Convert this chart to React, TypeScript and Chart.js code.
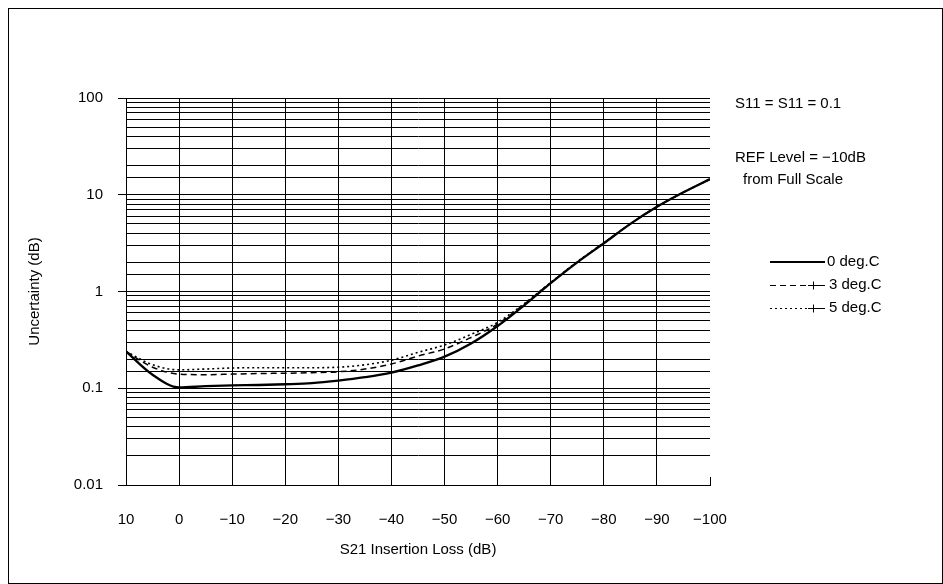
import React, { useEffect, useRef } from "react";
import { Chart, registerables } from "chart.js";

Chart.register(...registerables);

// ---- data ----
const xValues = [10, 5, 0, -5, -10, -15, -20, -25, -30, -35, -40, -45, -50, -55, -60, -65, -70, -75, -80, -85, -90, -95, -100];
const series0 = [0.24, 0.138, 0.102, 0.105, 0.107, 0.108, 0.11, 0.113, 0.12, 0.13, 0.145, 0.172, 0.212, 0.29, 0.44, 0.72, 1.22, 2.0, 3.15, 5.0, 7.5, 10.6, 14.5];
const series3 = [0.24, 0.165, 0.14, 0.138, 0.14, 0.142, 0.143, 0.145, 0.148, 0.158, 0.178, 0.215, 0.255, 0.335, 0.46, 0.74, 1.23, 2.02, 3.17, 5.0, 7.5, 10.6, 14.5];
const series5 = [0.24, 0.175, 0.155, 0.158, 0.162, 0.163, 0.163, 0.163, 0.165, 0.175, 0.195, 0.235, 0.28, 0.36, 0.48, 0.75, 1.24, 2.03, 3.18, 5.0, 7.5, 10.6, 14.5];
const seriesNames = ["0 deg.C", "3 deg.C", "5 deg.C"];
const xTicks = [10, 0, -10, -20, -30, -40, -50, -60, -70, -80, -90, -100];
const yMajorTicks = [0.01, 0.1, 1, 10, 100];
const yTickLabels = ["0.01", "0.1", "1", "10", "100"];
const noteLines = ["S11 = S11 = 0.1", "REF Level = \u221210dB", "from Full Scale"];
const xTitle = "S21 Insertion Loss (dB)";
const yTitle = "Uncertainty (dB)";

const FONT = "'Liberation Sans', Arial, sans-serif";
const FS = 15;

const fmtX = (v: number) => (v < 0 ? "\u2212" + Math.abs(v) : String(v));
const isMajor = (v: number) => {
  const l = Math.log10(v);
  return Math.abs(l - Math.round(l)) < 1e-6;
};

const notesPlugin = {
  id: "notes",
  afterDraw(chart: any) {
    const ctx = chart.ctx;
    const { bottom } = chart.chartArea;
    const xs = chart.scales.x;
    ctx.save();
    // small tick at -100
    ctx.strokeStyle = "#000";
    ctx.lineWidth = 1;
    const px = Math.round(xs.getPixelForValue(-100)) + 0.5;
    ctx.beginPath();
    ctx.moveTo(px, bottom - 8);
    ctx.lineTo(px, bottom);
    ctx.stroke();

    ctx.fillStyle = "#000";
    ctx.font = `${FS}px ${FONT}`;
    ctx.textBaseline = "middle";
    ctx.textAlign = "left";
    ctx.fillText(noteLines[0], 726, 95);
    ctx.fillText(noteLines[1], 726, 149);
    ctx.fillText(noteLines[2], 734, 171);

    // legend
    const rows = [253, 276, 299];
    const x0 = 761;
    // solid
    ctx.lineWidth = 2;
    ctx.setLineDash([]);
    ctx.beginPath();
    ctx.moveTo(x0, rows[0]);
    ctx.lineTo(x0 + 55, rows[0]);
    ctx.stroke();
    ctx.fillText(seriesNames[0], x0 + 57, rows[0]);
    // dashed / dotted
    const dashes = [[6, 4], [2, 3]];
    for (let i = 1; i < 3; i++) {
      const y = rows[i] + 0.5;
      ctx.lineWidth = 1;
      ctx.setLineDash(dashes[i - 1]);
      ctx.beginPath();
      ctx.moveTo(x0, y);
      ctx.lineTo(x0 + 38, y);
      ctx.stroke();
      ctx.setLineDash([]);
      ctx.beginPath();
      ctx.moveTo(x0 + 38, y);
      ctx.lineTo(x0 + 55, y);
      ctx.moveTo(x0 + 43.5, y - 4);
      ctx.lineTo(x0 + 43.5, y + 4);
      ctx.stroke();
      ctx.fillText(seriesNames[i], x0 + 59, rows[i]);
    }
    ctx.restore();
  },
};

export default function App() {
  const ref = useRef<HTMLCanvasElement | null>(null);
  useEffect(() => {
    document.body.style.overflow = "hidden";
    const canvas = ref.current!;
    const mk = (vals: number[]) => xValues.map((x, i) => ({ x, y: vals[i] }));
    const chart = new Chart(canvas, {
      type: "line",
      data: {
        datasets: [
          {
            label: seriesNames[0],
            data: mk(series0),
            borderColor: "#000",
            borderWidth: 2.3,
            pointRadius: 0,
            cubicInterpolationMode: "monotone",
            fill: false,
          },
          {
            label: seriesNames[1],
            data: mk(series3),
            borderColor: "#000",
            borderWidth: 1.5,
            borderDash: [6, 4],
            pointRadius: 0,
            cubicInterpolationMode: "monotone",
            fill: false,
          },
          {
            label: seriesNames[2],
            data: mk(series5),
            borderColor: "#000",
            borderWidth: 1.6,
            borderDash: [2, 3],
            pointRadius: 0,
            cubicInterpolationMode: "monotone",
            fill: false,
          },
        ],
      },
      options: {
        responsive: false,
        animation: false,
        devicePixelRatio: 1,
        layout: { padding: { top: 89, right: 232, left: 0, bottom: 0 } },
        plugins: { legend: { display: false }, tooltip: { enabled: false } },
        scales: {
          x: {
            type: "linear",
            reverse: true,
            min: -100,
            max: 10,
            afterBuildTicks: (s: any) => {
              s.ticks = xTicks.map((v) => ({ value: v }));
            },
            afterFit: (s: any) => {
              s.height = 98;
            },
            ticks: {
              autoSkip: false,
              maxRotation: 0,
              padding: 26,
              color: "#000",
              font: { family: FONT, size: FS },
              callback: (v: any) => fmtX(Number(v)),
            },
            grid: {
              drawTicks: false,
              lineWidth: 1,
              color: (c: any) => (c.tick && c.tick.value === -100 ? "rgba(0,0,0,0)" : "#000"),
            },
            border: { display: true, color: "#000", width: 1 },
            title: {
              display: true,
              text: xTitle,
              color: "#000",
              font: { family: FONT, size: FS },
              padding: { top: 0, bottom: 24 },
            },
          },
          y: {
            type: "logarithmic",
            min: 0.01,
            max: 100,
            afterFit: (s: any) => {
              s.width = 117;
            },
            ticks: {
              autoSkip: false,
              padding: 15,
              color: "#000",
              font: { family: FONT, size: FS },
              callback: (v: any) => {
                const n = Number(v);
                if (!isMajor(n)) return "";
                const idx = yMajorTicks.findIndex((m) => Math.abs(m - n) / m < 1e-6);
                return idx >= 0 ? yTickLabels[idx] : "";
              },
            },
            grid: {
              lineWidth: 1,
              color: "#000",
              tickLength: 8,
              tickColor: (c: any) => (c.tick && isMajor(c.tick.value) ? "#000" : "rgba(0,0,0,0)"),
            },
            border: { display: true, color: "#000", width: 1 },
            title: {
              display: true,
              text: yTitle,
              color: "#000",
              font: { family: FONT, size: FS },
              padding: { top: 17, bottom: 0 },
            },
          },
        },
      },
      plugins: [notesPlugin],
    } as any);
    return () => chart.destroy();
  }, []);

  return (
    <div
      style={{
        position: "absolute",
        left: 8,
        top: 8,
        width: 935,
        height: 576,
        border: "1px solid #000",
        boxSizing: "border-box",
        background: "#fff",
      }}
    >
      <canvas ref={ref} width={933} height={574} style={{ display: "block", width: 933, height: 574 }} />
    </div>
  );
}
